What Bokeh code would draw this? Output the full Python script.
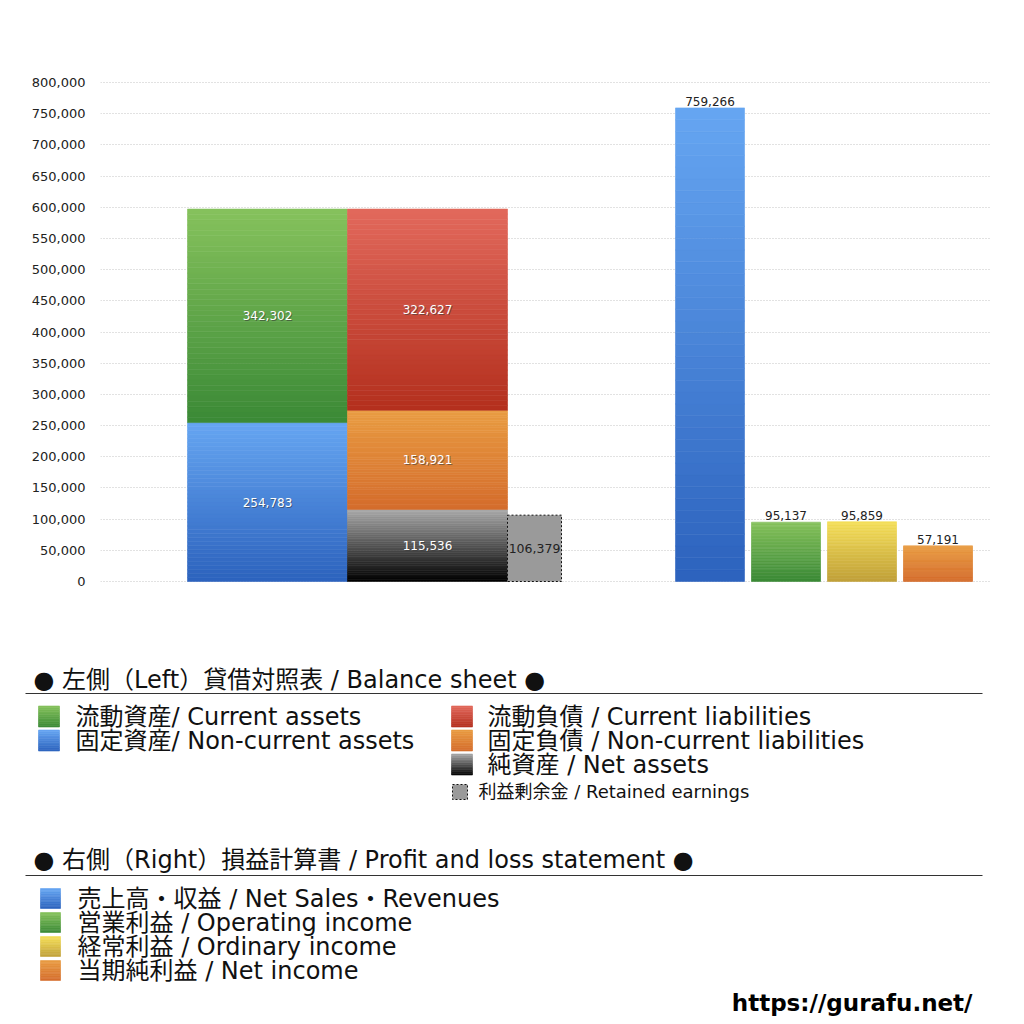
import numpy as np
from bokeh.plotting import figure
from bokeh.models import Range1d, NumeralTickFormatter, SingleIntervalTicker
from bokeh.core.properties import value
from bokeh.embed import file_html
from bokeh.resources import INLINE

# ---------------- data ----------------
asset_labels = ["固定資産", "流動資産"]            # stacked bottom -> top
asset_values = [254783, 342302]
liab_labels = ["純資産", "固定負債", "流動負債"]    # stacked bottom -> top
liab_values = [115536, 158921, 322627]
retained_label = "利益剰余金"
retained_value = 106379
pl_labels = ["売上高・収益", "営業利益", "経常利益", "当期純利益"]
pl_values = [759266, 95137, 95859, 57191]
y_tick_step = 50000
y_tick_max = 800000

legend_bs_title = "● 左側（Left）貸借対照表 / Balance sheet ●"
legend_bs_left = ["流動資産/ Current assets", "固定資産/ Non-current assets"]
legend_bs_right = ["流動負債 /  Current liabilities", "固定負債 / Non-current liabilities", "純資産 / Net assets"]
legend_retained = "利益剰余金 / Retained earnings"
legend_pl_title = "● 右側（Right）損益計算書 / Profit and loss statement ●"
legend_pl = ["売上高・収益 / Net Sales・Revenues", "営業利益 / Operating income",
             "経常利益 / Ordinary income", "当期純利益 / Net income"]
site_url = "https://gurafu.net/"

# ---------------- styles ----------------
FONT = "DejaVu Sans, Noto Sans CJK JP"
NUMFONT = "DejaVu Sans"
G_GREEN = ("#86c25c", "#3a8936")
G_BLUE = ("#66a6f2", "#2c62bd")
G_RED = ("#e2695c", "#b32f1d")
G_ORANGE = ("#e99c42", "#d46c2c")
G_BLACK = ("#a8a8a8", "#000000")
G_YELLOW = ("#f4de58", "#c0a03a")
RET_FILL = "#9a9a9a"

asset_grads = [G_BLUE, G_GREEN]
liab_grads = [G_BLACK, G_ORANGE, G_RED]
pl_grads = [G_BLUE, G_GREEN, G_YELLOW, G_ORANGE]


def hex2rgb(h):
    h = h.lstrip("#")
    return np.array([int(h[i:i + 2], 16) for i in (0, 2, 4)], dtype=float)


def grad_colors(c_top, c_bot, n):
    a, b = hex2rgb(c_bot), hex2rgb(c_top)
    t = (np.arange(n) + 0.5) / n
    cols = []
    for tt in t:
        c = a + (b - a) * tt
        cols.append("#%02x%02x%02x" % tuple(int(round(v)) for v in c))
    return cols  # bottom -> top


def grad_bar(fig, left, right, bottom, top, grad, n=40):
    edges = np.linspace(bottom, top, n + 1)
    cols = grad_colors(grad[0], grad[1], n)
    fig.quad(left=[left] * n, right=[right] * n, bottom=edges[:-1], top=edges[1:],
             fill_color=cols, line_color=cols, line_width=0.6)


# ---------------- chart figure ----------------
W = 1008
H1 = 620
px_per_unit = 499 / 800000.0
frame_top_px, zero_px, frame_bot_px = 70, 581, 590
y_end = (zero_px - frame_top_px) / px_per_unit
y_start = -(frame_bot_px - zero_px) / px_per_unit

p = figure(width=W, height=H1, output_backend="svg", toolbar_location=None,
           x_range=Range1d(0, 890), y_range=Range1d(y_start, y_end),
           x_axis_location=None, min_border_left=100, min_border_right=W - 990,
           min_border_top=frame_top_px, min_border_bottom=H1 - frame_bot_px)
p.outline_line_color = None
p.xgrid.grid_line_color = None
p.ygrid.grid_line_color = "#c4c4c4"
p.ygrid.grid_line_dash = "1 2"
p.yaxis.ticker = SingleIntervalTicker(interval=y_tick_step)
p.yaxis.formatter = NumeralTickFormatter(format="0,0")
p.yaxis.axis_line_color = None
p.yaxis.major_tick_line_color = None
p.yaxis.minor_tick_line_color = None
p.yaxis.major_tick_out = 0
p.yaxis.major_label_standoff = 11
p.yaxis.major_label_text_font = NUMFONT
p.yaxis.major_label_text_font_size = "13px"
p.yaxis.major_label_text_color = "#222222"

# layout of bars in frame units
asset_x = (87, 247)
liab_x = (247, 407)
ret_x = (407, 461)
pl_left = [575, 651, 727, 803]
pl_w = 69

# balance-sheet stacks
inside_x, inside_y, inside_t = [], [], []
bottom = 0
for v, g in zip(asset_values, asset_grads):
    grad_bar(p, asset_x[0], asset_x[1], bottom, bottom + v, g)
    inside_x.append((asset_x[0] + asset_x[1]) / 2)
    inside_y.append(bottom + v / 2)
    inside_t.append(f"{v:,}")
    bottom += v
bottom = 0
for v, g in zip(liab_values, liab_grads):
    grad_bar(p, liab_x[0], liab_x[1], bottom, bottom + v, g)
    inside_x.append((liab_x[0] + liab_x[1]) / 2)
    inside_y.append(bottom + v / 2)
    inside_t.append(f"{v:,}")
    bottom += v

p.text(x=inside_x, y=inside_y, text=inside_t, text_font=value(NUMFONT),
       text_font_size="12px", text_color="#333333", text_alpha=0.55,
       text_align="center", text_baseline="middle", x_offset=1, y_offset=1)
p.text(x=inside_x, y=inside_y, text=inside_t, text_font=value(NUMFONT),
       text_font_size="12px", text_color="#ffffff",
       text_align="center", text_baseline="middle")

# retained earnings
p.quad(left=[ret_x[0]], right=[ret_x[1]], bottom=[0], top=[retained_value],
       fill_color=RET_FILL, line_color="#111111", line_dash="2 2", line_width=1)
p.text(x=[(ret_x[0] + ret_x[1]) / 2], y=[retained_value / 2], text=[f"{retained_value:,}"],
       text_font=value(NUMFONT), text_font_size="12.5px", text_color="#222222",
       text_align="center", text_baseline="middle")

# P&L bars
for l, v, g in zip(pl_left, pl_values, pl_grads):
    grad_bar(p, l, l + pl_w, 0, v, g)
p.text(x=[l + pl_w / 2 for l in pl_left], y=pl_values, text=[f"{v:,}" for v in pl_values],
       text_font=value(NUMFONT), text_font_size="12px", text_color="#222222",
       text_align="center", text_baseline="bottom", y_offset=-2)

# ---------------- legend figure ----------------
H2 = 396
Y0 = H1 + 1  # page y of the legend figure's top
q = figure(width=W, height=H2, output_backend="svg", toolbar_location=None,
           x_range=Range1d(0, W), y_range=Range1d(H2, 0),
           x_axis_location=None, y_axis_location=None,
           min_border_left=0, min_border_right=0, min_border_top=0, min_border_bottom=0)
q.outline_line_color = None
q.xgrid.grid_line_color = None
q.ygrid.grid_line_color = None


def swatch(fig, x0, yc, size, grad):
    n = 12
    edges = np.linspace(yc + size / 2, yc - size / 2, n + 1)
    cols = grad_colors(grad[0], grad[1], n)
    fig.quad(left=[x0] * n, right=[x0 + size] * n, bottom=edges[:-1], top=edges[1:],
             fill_color=cols, line_color=cols, line_width=0.6)


TXT = dict(text_font=value(FONT), text_color="#111111", text_baseline="middle", text_align="left")
FS = "24px"

# Balance sheet section
q.text(x=[33], y=[680 - Y0], text=[legend_bs_title], text_font_size=FS, **TXT)
q.segment(x0=[25], x1=[982], y0=[694 - Y0], y1=[694 - Y0], line_color="#333333", line_width=1)
left_grads = [G_GREEN, G_BLUE]
for i, (t, g) in enumerate(zip(legend_bs_left, left_grads)):
    yc = 717 - Y0 + 24 * i
    swatch(q, 38, yc, 21, g)
    q.text(x=[75], y=[yc], text=[t], text_font_size=FS, **TXT)
right_grads = [G_RED, G_ORANGE, G_BLACK]
for i, (t, g) in enumerate(zip(legend_bs_right, right_grads)):
    yc = 717 - Y0 + 24 * i
    swatch(q, 451, yc, 21, g)
    q.text(x=[487], y=[yc], text=[t], text_font_size=FS, **TXT)
q.quad(left=[452], right=[467], top=[785 - Y0], bottom=[800 - Y0], fill_color=RET_FILL,
       line_color="#111111", line_dash="2 2", line_width=1)
q.text(x=[478], y=[792 - Y0], text=[legend_retained], text_font_size="18px", **TXT)

# P&L section
q.text(x=[33], y=[860 - Y0], text=[legend_pl_title], text_font_size=FS, **TXT)
q.segment(x0=[25], x1=[982], y0=[876 - Y0], y1=[876 - Y0], line_color="#333333", line_width=1)
for i, (t, g) in enumerate(zip(legend_pl, pl_grads)):
    yc = 899 - Y0 + 24 * i
    swatch(q, 40, yc, 20, g)
    q.text(x=[77], y=[yc], text=[t], text_font_size=FS, **TXT)

q.text(x=[972], y=[1003 - Y0], text=[site_url], text_font=value(NUMFONT),
       text_font_size="23px", text_font_style="bold", text_color="#000000",
       text_baseline="middle", text_align="right")

open("out.html", "w").write(file_html([p, q], INLINE))
